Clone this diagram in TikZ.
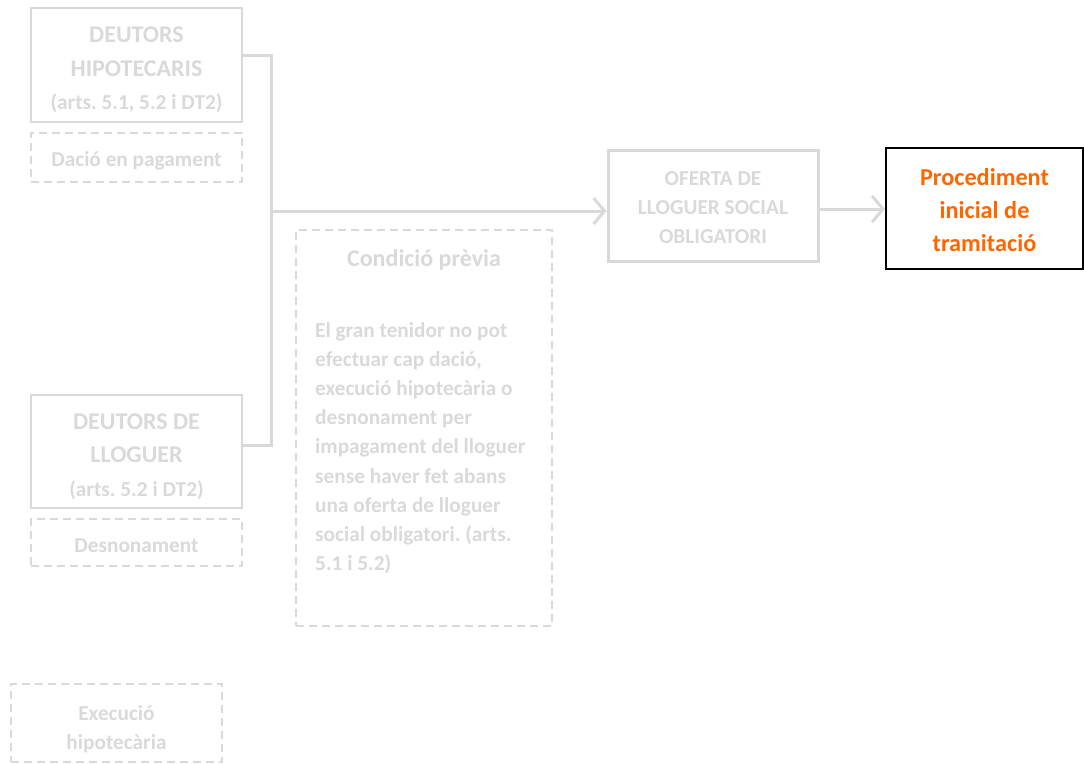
\documentclass[tikz,border=0pt]{standalone}
\usepackage{fontspec}
\setmainfont{Carlito}
\usetikzlibrary{arrows.meta}
\definecolor{lg}{HTML}{D9D9D9}
\definecolor{org}{HTML}{FF6600}
\frenchspacing
\tikzset{
  x=1pt,y=1pt,
  solidbox/.style={draw=lg,line width=2pt,inner sep=0pt},
  dashbox/.style={draw=lg,line width=1.5pt,dash pattern=on 8pt off 5pt,inner sep=0pt},
  txt/.style={text=lg,inner sep=0pt,align=center},
  big/.style={font=\bfseries\fontsize{24}{33.5}\selectfont},
  small/.style={font=\bfseries\fontsize{21.3}{29.2}\selectfont},
  conn/.style={draw=lg,line width=3pt},
  arr/.style={conn,-{Straight Barb[length=11pt,width=26pt,line width=3pt]}},
}
\newcommand{\subt}{\fontsize{21.3}{33.5}\selectfont}
\begin{document}
\begin{tikzpicture}
\useasboundingbox (0,0) rectangle (1084,-763);
% left column
\node[solidbox,minimum width=211,minimum height=114] (hip) at (136.5,-65) {};
\node[txt,big] (hipt) at ([yshift=-5pt]hip.center)
  {DEUTORS\\HIPOTECARIS\\{\subt (arts. 5.1, 5.2 i DT2)}};
\node[dashbox,minimum width=211,minimum height=49] (dacio) at (136.5,-157.5) {};
\node[txt,small] (daciot) at ([yshift=-3pt]dacio.center) {Dació en pagament};
\node[solidbox,minimum width=211,minimum height=113] (llog) at (136.5,-451.5) {};
\node[txt,big] (llogt) at ([yshift=-5pt]llog.center)
  {DEUTORS DE\\LLOGUER\\{\subt (arts. 5.2 i DT2)}};
\node[dashbox,minimum width=211,minimum height=47] (desn) at (136.5,-542.5) {};
\node[txt,small] (desnt) at ([yshift=-3pt]desn.center) {Desnonament};
\node[dashbox,minimum width=211,minimum height=78] (exec) at (116.5,-723) {};
\node[txt,small] (exect) at ([yshift=-6pt]exec.center) {Execució\\hipotecària};
% condition box
\node[dashbox,minimum width=256,minimum height=396] (cond) at (424,-428) {};
\node[txt,big] (condt) at (424,-260) {Condició prèvia};
\node[txt,small,anchor=north west,align=left] (condb) at (315,-322)
  {El gran tenidor no pot\\efectuar cap dació,\\execució hipotecària o\\desnonament per\\impagament del lloguer\\sense haver fet abans\\una oferta de lloguer\\social obligatori. (arts.\\5.1 i 5.2)};
% oferta
\node[solidbox,line width=3pt,minimum width=210,minimum height=111] (ofer) at (713,-205.5) {};
\node[txt,small] (ofert) at ([yshift=-2pt]ofer.center) {OFERTA DE\\LLOGUER SOCIAL\\OBLIGATORI};
% procediment
\node[draw=black,line width=2pt,inner sep=0pt,minimum width=197,minimum height=121] (proc) at (984.5,-208.5) {};
\node[txt,text=org,font=\bfseries\fontsize{24.3}{33}\selectfont] (proct) at ([yshift=-1.5pt]proc.center)
  {Procediment\\inicial de\\tramitació};
% connectors
\coordinate (jt) at (271,-55);
\coordinate (jb) at (271,-445);
\coordinate (jm) at (271,-211);
\draw[conn] (hip.east |- jt) -- (jt) -- (jb) -- (llog.east |- jb);
\draw[arr] (jm) -- (ofer.west |- jm);
\draw[arr] (ofer.east |- 0,-209) -- (proc.west |- 0,-209);
\end{tikzpicture}
\end{document}
